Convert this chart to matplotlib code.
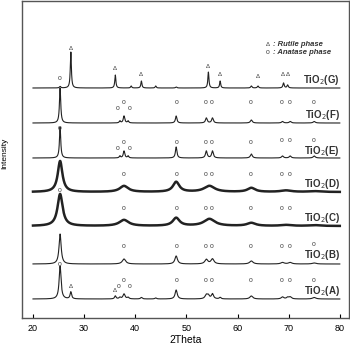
import numpy as np
import matplotlib
matplotlib.use("Agg")
from matplotlib import pyplot as plt

plt.rcParams['font.family'] = ['Liberation Sans', 'DejaVu Sans']

# sample names, bottom to top, and vertical offsets of their baselines
samples = ["A", "B", "C", "D", "E", "F", "G"]
baselines = [19, 54, 92, 126, 160, 195, 230]

# peak tables per sample: 2theta position, height, width (FWHM, deg)
peaks = {
    "A": ([25.3, 27.4, 36.1, 37.0, 37.8, 38.6, 41.2, 44.0, 48.0, 53.9, 54.3, 55.1, 56.6, 62.7, 68.8, 69.8, 70.3, 75.0],
          [33, 7, 3, 1.5, 5, 1.5, 1.5, 1, 9, 4, 3, 5, 1.5, 3, 2, 1.5, 2, 1.5],
          [0.45, 0.35, 0.35, 0.4, 0.5, 0.4, 0.4, 0.4, 0.5, 0.6, 0.5, 0.5, 0.4, 0.7, 0.6, 0.5, 0.6, 0.8]),
    "B": ([25.3, 37.8, 48.0, 53.9, 55.1, 62.7, 68.8, 70.3, 75.0],
          [30, 5, 8, 4.5, 5, 3, 1.5, 1.5, 1],
          [0.5, 0.8, 0.6, 0.7, 0.7, 0.8, 0.8, 0.8, 0.9]),
    "C": ([25.3, 37.8, 48.0, 54.5, 62.7, 69.5, 75.0],
          [32, 6, 8, 7, 3, 1, 0.8],
          [1.2, 2.2, 1.6, 2.6, 2.0, 2.5, 2.5]),
    "D": ([25.3, 37.8, 48.0, 54.5, 62.7, 69.5, 75.0],
          [31, 6, 10, 6, 4, 1.5, 0.8],
          [1.1, 2.0, 1.5, 2.5, 1.8, 2.5, 2.5]),
    "E": ([25.3, 37.0, 37.8, 38.6, 48.0, 53.9, 55.1, 62.7, 68.8, 70.3, 75.0],
          [31, 2, 7, 2, 11, 7, 7, 4, 2, 2, 2],
          [0.3, 0.3, 0.35, 0.3, 0.35, 0.4, 0.4, 0.45, 0.45, 0.45, 0.5]),
    "F": ([25.3, 37.0, 37.8, 38.6, 48.0, 53.9, 55.1, 62.7, 68.8, 70.3, 75.0],
          [35, 2, 7, 2, 7, 5, 5, 3, 1.5, 1.5, 1.5],
          [0.3, 0.3, 0.35, 0.3, 0.35, 0.4, 0.4, 0.45, 0.45, 0.45, 0.5]),
    "G": ([25.3, 27.4, 36.1, 39.2, 41.2, 44.0, 48.0, 54.3, 56.6, 62.7, 64.0, 69.0, 69.8],
          [1.5, 36, 13, 2, 7, 2, 1, 16, 7, 2, 2, 5, 3],
          [0.3, 0.25, 0.25, 0.25, 0.25, 0.25, 0.3, 0.25, 0.25, 0.3, 0.3, 0.3, 0.3]),
}

# phase markers per sample: symbol, 2theta, height above baseline
anatase = "o"
rutile = "\u0394"
markers = {
    "A": [(anatase, 25.3, 35), (rutile, 27.4, 12), (rutile, 36.0, 8), (anatase, 36.8, 12),
          (anatase, 37.8, 18), (anatase, 39.0, 12), (anatase, 48.1, 18), (anatase, 53.7, 18),
          (anatase, 55.0, 18), (anatase, 62.5, 18), (anatase, 68.6, 18), (anatase, 70.2, 18),
          (anatase, 74.9, 18)],
    "B": [(anatase, 37.8, 18), (anatase, 48.1, 18), (anatase, 53.7, 18), (anatase, 55.0, 18),
          (anatase, 62.5, 18), (anatase, 68.6, 18), (anatase, 70.2, 18), (anatase, 74.9, 19)],
    "C": [(anatase, 25.3, 35), (anatase, 37.8, 18), (anatase, 48.1, 18), (anatase, 53.7, 18),
          (anatase, 55.0, 18), (anatase, 62.5, 18), (anatase, 68.6, 18), (anatase, 70.2, 18)],
    "D": [(anatase, 37.8, 17), (anatase, 48.1, 17), (anatase, 53.7, 17), (anatase, 55.0, 17),
          (anatase, 62.5, 17), (anatase, 68.6, 17), (anatase, 70.2, 17)],
    "E": [(anatase, 25.3, 30), (anatase, 36.6, 9), (anatase, 37.8, 16), (anatase, 38.9, 9),
          (anatase, 48.1, 16), (anatase, 53.7, 16), (anatase, 55.0, 16), (anatase, 62.5, 16),
          (anatase, 68.6, 17), (anatase, 70.2, 17), (anatase, 74.9, 17)],
    "F": [(anatase, 36.6, 15), (anatase, 37.8, 21), (anatase, 38.9, 15), (anatase, 48.1, 20),
          (anatase, 53.7, 20), (anatase, 55.0, 20), (anatase, 62.5, 20), (anatase, 68.6, 20),
          (anatase, 70.2, 20), (anatase, 74.9, 21)],
    "G": [(anatase, 25.3, 10), (rutile, 27.4, 39), (rutile, 36.0, 20), (rutile, 41.2, 13),
          (rutile, 54.3, 22), (rutile, 56.6, 13), (rutile, 63.9, 11), (rutile, 68.8, 13),
          (rutile, 69.8, 13)],
}

label_rise = [8, 9, 8, 8, 7, 8, 8]
thick = ["C", "D"]

x = np.linspace(20, 80, 3000)


def pattern(pos, hgt, wid):
    y = np.zeros_like(x)
    for p, h, w in zip(pos, hgt, wid):
        g = (w / 2) ** 2
        y += h * g / ((x - p) ** 2 + g)
    return y


fig = plt.figure(figsize=(3.5, 3.46), dpi=100)
ax = fig.add_axes([22 / 350, 28 / 346, 327 / 350, 317 / 346])

for name, base, rise in zip(samples, baselines, label_rise):
    pos, hgt, wid = peaks[name]
    lw = 1.8 if name in thick else 0.8
    ax.plot(x, base + pattern(pos, hgt, wid), color="#222222", lw=lw)
    for sym, p, h in markers[name]:
        fs = 4.5 if sym == rutile else 5
        ax.text(p, base + h, sym, fontsize=fs, color="#444444", ha="center", va="center")
    ax.text(80, base + rise, "TiO$_2$(" + name + ")", fontsize=7, ha="right", va="center",
            color="#333333", fontweight="bold")

ax.text(65.9, 273, rutile, fontsize=4.5, color="#444444", ha="center", va="center")
ax.text(67.0, 273, ": Rutile phase", fontsize=5.5, style="italic", fontweight="bold",
        ha="left", va="center", color="#333333")
ax.text(65.9, 265, anatase, fontsize=5, color="#444444", ha="center", va="center")
ax.text(67.0, 265, ": Anatase phase", fontsize=5.5, style="italic", fontweight="bold",
        ha="left", va="center", color="#333333")

ax.set_xlim(17.85, 81.8)
ax.set_ylim(0, 317)
ax.set_xticks([20, 30, 40, 50, 60, 70, 80])
ax.set_yticks([])
ax.tick_params(axis="x", direction="in", length=3, labelsize=6.5, pad=4)
for s in ax.spines.values():
    s.set_color("#555555")
    s.set_linewidth(1.0)
ax.set_xlabel("2Theta", fontsize=7.5, labelpad=2)
fig.text(5 / 350, 1 - 153 / 346, "Intensity", rotation=90, fontsize=6, ha="center", va="center")

fig.savefig("out.png", dpi=100)
